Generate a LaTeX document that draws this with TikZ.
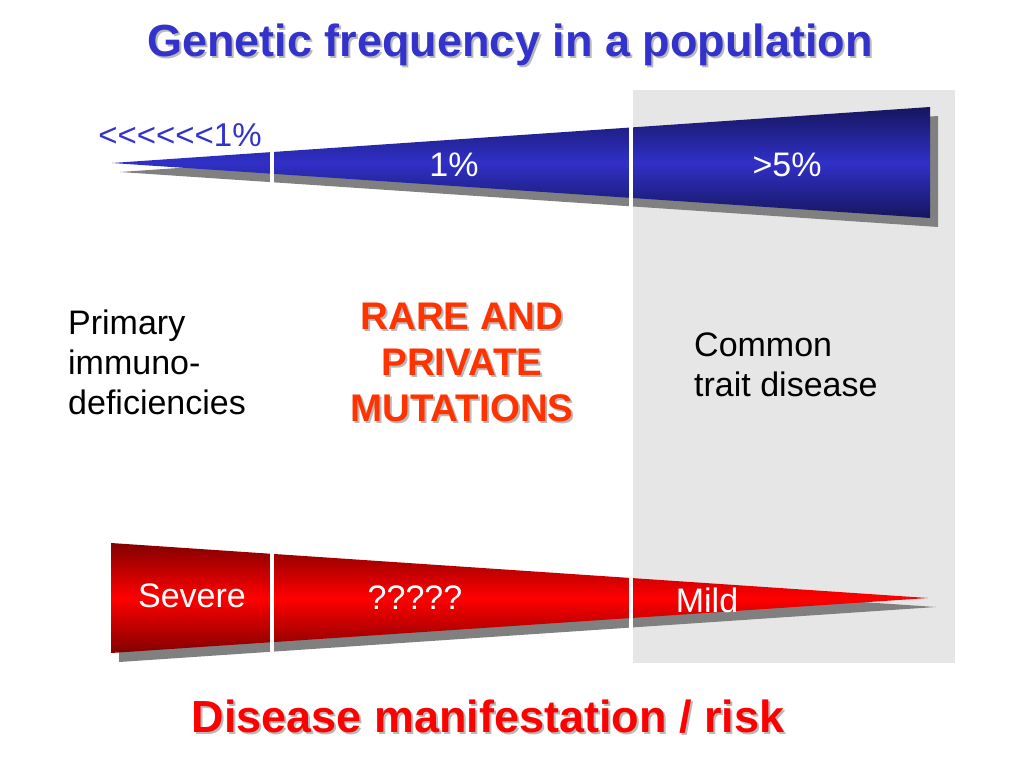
\documentclass[tikz,border=0pt]{standalone}
\usepackage{fontspec}
\setmainfont{Liberation Sans}
\definecolor{tblue}{RGB}{51,51,204}
\definecolor{wblue}{RGB}{48,48,200}
\definecolor{dblue}{RGB}{22,22,95}
\definecolor{rred}{RGB}{255,0,0}
\definecolor{dred}{RGB}{130,0,0}
\definecolor{orr}{RGB}{255,51,0}
\definecolor{bgg}{RGB}{230,230,230}
\definecolor{shd}{RGB}{128,128,128}
\definecolor{tshd}{RGB}{185,185,185}
\tikzset{
  reg/.style={font=\fontsize{34}{40}\selectfont, inner sep=0pt},
  wtext/.style={reg, text=white},
  bigbold/.style={font=\bfseries\fontsize{45}{50}\selectfont, inner sep=0pt},
  rarefont/.style={font=\bfseries\fontsize{38.5}{46}\selectfont, inner sep=0pt, align=center},
  gapline/.style={white, line width=3.5pt},
  wedgeshadow/.style={fill=shd}
}
\newcommand{\lt}{<\kern0pt}
\begin{document}
\begin{tikzpicture}[x=1pt,y=-1pt]
\useasboundingbox (0,0) rectangle (1024,768);
\fill[white] (0,0) rectangle (1024,768);
% grey background panel
\fill[bgg] (633,90) rectangle (955,663);
% blue wedge
\fill[wedgeshadow] (120,172) -- (938,116) -- (938,227) -- cycle;
\shade[top color=dblue, bottom color=dblue, middle color=wblue] (112,163) -- (930,107) -- (930,218) -- cycle;
\draw[gapline] (272,140) -- (272,190);
\draw[gapline] (631,118) -- (631,214);
% red wedge
\fill[wedgeshadow] (119,552) -- (936,607) -- (119,662) -- cycle;
\shade[top color=dred, bottom color=dred, middle color=rred] (111,543) -- (928,598) -- (111,653) -- cycle;
\draw[gapline] (272,540) -- (272,666);
\draw[gapline] (631,565) -- (631,632);
% titles
\node[bigbold, text=tshd] at (512,47) {Genetic frequency in a population};
\node[bigbold, text=tblue] (title) at (510,45) {Genetic frequency in a population};
\node[bigbold, text=tshd] at (490,719) {Disease manifestation / risk};
\node[bigbold, text=rred] (bottom) at (488,717) {Disease manifestation / risk};
% labels
\node[reg, text=tblue, font=\fontsize{33}{40}\selectfont] (low) at (180,135) {\lt\lt\lt\lt\lt\lt 1\%};
\node[wtext] (one) at (454,165) {1\%};
\node[wtext] (five) at (787,165) {>5\%};
\node[reg, anchor=west, align=left] (pid) at (68,362) {Primary\\immuno-\\deficiencies};
\node[rarefont, text=tshd] at (464,364) {RARE AND\\PRIVATE\\MUTATIONS};
\node[rarefont, text=orr] (rare) at (462,362) {RARE AND\\PRIVATE\\MUTATIONS};
\node[reg, anchor=west, align=left] (common) at (694,365) {Common\\trait disease};
\node[wtext] (severe) at (192,596) {Severe};
\node[wtext] (q) at (415,598) {?????};
\node[wtext] (mild) at (707,600) {Mild};
\end{tikzpicture}
\end{document}
